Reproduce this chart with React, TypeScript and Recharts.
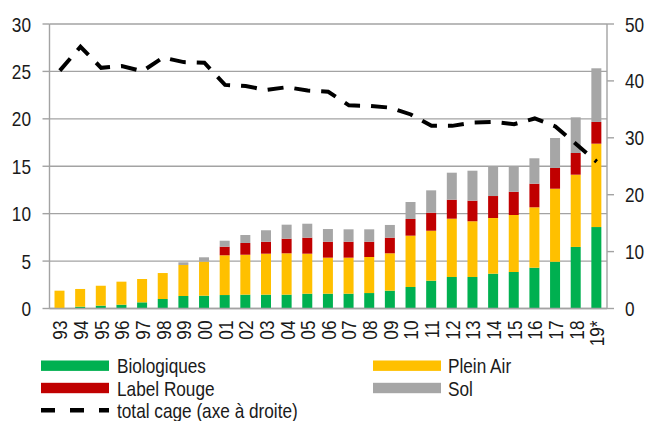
import React from 'react';
import { ComposedChart, Bar, Line, XAxis, YAxis, CartesianGrid, Legend } from 'recharts';

const years = ['93', '94', '95', '96', '97', '98', '99', '00', '01', '02', '03', '04', '05', '06', '07', '08', '09', '10', '11', '12', '13', '14', '15', '16', '17', '18', '19*'];
const biologiques = [0.05, 0.19, 0.3, 0.4, 0.65, 1.0, 1.32, 1.35, 1.42, 1.46, 1.46, 1.46, 1.56, 1.56, 1.56, 1.63, 1.88, 2.27, 2.93, 3.32, 3.32, 3.67, 3.85, 4.3, 4.93, 6.49, 8.59];
const pleinAir = [1.83, 1.87, 2.1, 2.43, 2.46, 2.74, 3.27, 3.59, 4.19, 4.21, 4.32, 4.36, 4.22, 3.8, 3.8, 3.8, 3.94, 5.41, 5.27, 6.15, 5.88, 5.87, 6.01, 6.37, 7.7, 7.62, 8.79];
const labelRouge = [0, 0, 0, 0, 0, 0, 0, 0, 0.91, 1.24, 1.26, 1.54, 1.69, 1.68, 1.68, 1.61, 1.65, 1.76, 1.9, 2.0, 2.17, 2.32, 2.46, 2.49, 2.19, 2.29, 2.29];
const sol = [0, 0, 0, 0, 0, 0, 0.28, 0.46, 0.63, 0.84, 1.21, 1.48, 1.47, 1.34, 1.31, 1.31, 1.34, 1.79, 2.36, 2.85, 3.16, 3.09, 2.63, 2.68, 3.16, 3.76, 5.66];
const totalCage = [41.8, 46.0, 42.3, 42.6, 41.7, 44.1, 43.3, 43.2, 39.3, 39.1, 38.4, 38.9, 38.3, 38.1, 35.7, 35.6, 35.3, 34.1, 32.1, 32.1, 32.7, 32.8, 32.4, 33.4, 32.0, 28.9, 25.8];
const leftTicks = [0, 5, 10, 15, 20, 25, 30];
const rightTicks = [0, 10, 20, 30, 40, 50];

const seriesNames = {
  bio: 'Biologiques',
  plein: 'Plein Air',
  lr: 'Label Rouge',
  sol: 'Sol',
  cage: 'total cage (axe à droite)',
};

const colors = {
  bio: '#00B050',
  plein: '#FFC000',
  lr: '#C00000',
  sol: '#A6A6A6',
  cage: '#000000',
};

const data = years.map((y, i) => ({
  year: y,
  bio: biologiques[i],
  plein: pleinAir[i],
  lr: labelRouge[i],
  sol: sol[i],
  cage: totalCage[i],
}));

const FONT = "'Liberation Sans', Arial, sans-serif";
const FS = 21;
const SX = 0.82;
const TEXT = '#1a1a1a';
const GRID = '#a3a3a3';

const NarrowText = ({ x, y, anchor, children, rotate }: any) => (
  <text
    transform={`translate(${x},${y})${rotate ? ' rotate(-90)' : ''} scale(${SX},1)`}
    x={0}
    y={0}
    dy="0.36em"
    textAnchor={anchor}
    fontSize={FS}
    fill={TEXT}
    fontFamily={FONT}
  >
    {children}
  </text>
);

const XTick = (props: any) => {
  const { x, y, payload } = props;
  return <NarrowText x={x} y={y + 12} anchor="end" rotate>{payload.value}</NarrowText>;
};

const LeftTick = (props: any) => {
  const { x, y, payload } = props;
  return <NarrowText x={x} y={y} anchor="end">{payload.value}</NarrowText>;
};

const RightTick = (props: any) => {
  const { x, y, payload } = props;
  return <NarrowText x={x} y={y} anchor="start">{payload.value}</NarrowText>;
};

const LegendContent = () => {
  const rowY = [15.7, 38, 60.3];
  const col1Sw = 41, col2Sw = 373, swW = 68, col1Tx = 117, col2Tx = 448;
  const items = [
    { key: 'bio', col: 0, row: 0 },
    { key: 'plein', col: 1, row: 0 },
    { key: 'lr', col: 0, row: 1 },
    { key: 'sol', col: 1, row: 1 },
  ];
  return (
    <svg width={646} height={71} style={{ display: 'block', overflow: 'visible' }}>
      {items.map((it) => {
        const sx = it.col === 0 ? col1Sw : col2Sw;
        const tx = it.col === 0 ? col1Tx : col2Tx;
        const cy = rowY[it.row];
        return (
          <g key={it.key}>
            <rect x={sx} y={cy - 5.2} width={swW} height={10.4} fill={(colors as any)[it.key]} />
            <NarrowText x={tx} y={cy} anchor="start">{(seriesNames as any)[it.key]}</NarrowText>
          </g>
        );
      })}
      <line x1={col1Sw} x2={col1Sw + swW} y1={rowY[2]} y2={rowY[2]} stroke="#000" strokeWidth={4.5} strokeDasharray="14 15" />
      <NarrowText x={col1Tx} y={rowY[2]} anchor="start">{seriesNames.cage}</NarrowText>
    </svg>
  );
};

export default function App() {
  return (
    <div style={{ position: 'absolute', left: 0, top: 0, width: 646, height: 421, background: '#fff' }}>
      <ComposedChart width={646} height={421} data={data} margin={{ top: 24, right: 0, bottom: 0, left: 0 }} barSize={10}>
        <CartesianGrid vertical={false} stroke={GRID} strokeWidth={1.4} yAxisId="left" />
        <XAxis
          dataKey="year"
          height={112.5}
          interval={0}
          tick={<XTick />}
          tickLine={false}
          tickSize={0}
          tickMargin={0}
          axisLine={{ stroke: GRID, strokeWidth: 1.4 }}
        />
        <YAxis
          yAxisId="left"
          orientation="left"
          width={49.5}
          domain={[0, 30]}
          ticks={leftTicks}
          tickSize={7}
          tickMargin={11.5}
          tickLine={{ stroke: GRID, strokeWidth: 1.4 }}
          axisLine={{ stroke: GRID, strokeWidth: 1.4 }}
          tick={<LeftTick />}
        />
        <YAxis
          yAxisId="right"
          orientation="right"
          width={39}
          domain={[0, 50]}
          ticks={rightTicks}
          tickSize={7}
          tickMargin={11}
          tickLine={{ stroke: GRID, strokeWidth: 1.4 }}
          axisLine={{ stroke: GRID, strokeWidth: 1.4 }}
          tick={<RightTick />}
        />
        <Bar yAxisId="left" dataKey="bio" name={seriesNames.bio} stackId="a" fill={colors.bio} isAnimationActive={false} />
        <Bar yAxisId="left" dataKey="plein" name={seriesNames.plein} stackId="a" fill={colors.plein} isAnimationActive={false} />
        <Bar yAxisId="left" dataKey="lr" name={seriesNames.lr} stackId="a" fill={colors.lr} isAnimationActive={false} />
        <Bar yAxisId="left" dataKey="sol" name={seriesNames.sol} stackId="a" fill={colors.sol} isAnimationActive={false} />
        <Line
          yAxisId="right"
          dataKey="cage"
          name={seriesNames.cage}
          type="linear"
          stroke={colors.cage}
          strokeWidth={4}
          strokeDasharray="16 11"
          dot={false}
          activeDot={false}
          isAnimationActive={false}
        />
        <Legend
          layout="vertical"
          align="center"
          verticalAlign="middle"
          wrapperStyle={{ top: 350, left: 0, width: 646, height: 71 }}
          content={<LegendContent />}
        />
      </ComposedChart>
    </div>
  );
}
